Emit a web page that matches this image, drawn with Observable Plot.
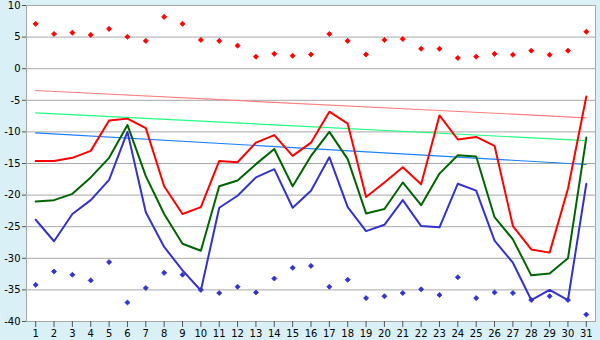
<!DOCTYPE html>
<html>
<head>
<meta charset="utf-8">
<script src="https://cdn.jsdelivr.net/npm/d3@7"></script>
<script src="https://cdn.jsdelivr.net/npm/@observablehq/plot@0.6"></script>
<style>
  html, body { margin: 0; padding: 0; background: #daf0f7; }
</style>
</head>
<body>
<div id="chart"></div>
<script>
const days = d3.range(1, 32);
const yTicks = [10, 5, 0, -5, -10, -15, -20, -25, -30, -35, -40];

const maxTemp = [-14.6, -14.6, -14.1, -13.0, -8.2, -7.9, -9.4, -18.6, -23.0, -21.9,
  -14.6, -14.8, -11.7, -10.5, -13.8, -11.7, -6.8, -8.7, -20.3, -18.0,
  -15.6, -18.3, -7.4, -11.2, -10.8, -12.2, -24.9, -28.6, -29.1, -19.0, -4.4];
const meanTemp = [-21.0, -20.8, -19.8, -17.2, -14.1, -8.9, -17.0, -23.0, -27.7, -28.8,
  -18.6, -17.7, -15.1, -12.7, -18.6, -13.8, -10.0, -14.3, -22.9, -22.2,
  -18.0, -21.6, -16.6, -13.7, -13.9, -23.5, -27.0, -32.7, -32.4, -30.0, -10.9];
const minTemp = [-23.9, -27.3, -23.0, -20.8, -17.6, -10.0, -22.7, -28.2, -31.9, -35.1,
  -22.0, -20.1, -17.2, -15.9, -22.0, -19.3, -14.0, -21.9, -25.7, -24.7,
  -20.8, -24.9, -25.1, -18.2, -19.3, -27.2, -30.7, -36.6, -35.0, -36.6, -18.2];
const recordHigh = [7.1, 5.5, 5.7, 5.35, 6.3, 5.05, 4.4, 8.2, 7.1, 4.55,
  4.4, 3.65, 1.9, 2.35, 2.05, 2.25, 5.5, 4.4, 2.25, 4.55,
  4.7, 3.15, 3.15, 1.7, 1.9, 2.35, 2.2, 2.85, 2.2, 2.85, 5.85];
const recordLow = [-34.2, -32.1, -32.6, -33.5, -30.6, -37.0, -34.7, -32.3, -32.6, -35.0,
  -35.5, -34.5, -35.4, -33.2, -31.5, -31.2, -34.5, -33.4, -36.3, -36.0,
  -35.5, -34.9, -35.8, -33.0, -36.3, -35.4, -35.5, -36.6, -36.0, -36.6, -38.9];
const trendDays = [1, 31];
const trendMax = [-3.45, -7.77];
const trendMean = [-6.98, -11.38];
const trendMin = [-10.15, -15.16];

const series = (vals) => days.map((d, i) => ({day: d, v: vals[i]}));
const trend = (vals) => trendDays.map((d, i) => ({day: d, v: vals[i]}));

const chart = Plot.plot({
  width: 600,
  height: 340,
  marginLeft: 26,
  marginRight: 5,
  marginTop: 5,
  marginBottom: 19,
  style: {background: "#daf0f7", fontFamily: "DejaVu Sans, Verdana, sans-serif", fontSize: "10px", color: "#000"},
  x: {domain: [0.5, 31.5], label: null},
  y: {domain: [-40, 10], label: null},
  marks: [
    Plot.frame({fill: "white", stroke: null}),
    Plot.gridY(yTicks, {stroke: "#a8a8a8", strokeOpacity: 1}),
    Plot.frame({stroke: "#a8a8a8"}),
    Plot.line(trend(trendMax), {x: "day", y: "v", stroke: "#ff8080", strokeWidth: 1.2}),
    Plot.line(trend(trendMean), {x: "day", y: "v", stroke: "#20ff80", strokeWidth: 1.2}),
    Plot.line(trend(trendMin), {x: "day", y: "v", stroke: "#1a80ff", strokeWidth: 1.2}),
    Plot.line(series(maxTemp), {x: "day", y: "v", stroke: "#ff0000", strokeWidth: 2}),
    Plot.line(series(meanTemp), {x: "day", y: "v", stroke: "#006400", strokeWidth: 2}),
    Plot.line(series(minTemp), {x: "day", y: "v", stroke: "#3333cc", strokeWidth: 2}),
    Plot.dot(series(recordHigh), {x: "day", y: "v", symbol: "diamond2", r: 2.3, fill: "#ff0000", stroke: "#ff0000", strokeWidth: 0.8}),
    Plot.dot(series(recordLow), {x: "day", y: "v", symbol: "diamond2", r: 2.3, fill: "#3333cc", stroke: "#3333cc", strokeWidth: 0.8}),
    Plot.axisX(days, {tickSize: 6, tickPadding: 2, tickFormat: d => String(d), stroke: "#555", label: null}),
    Plot.axisY(yTicks, {tickSize: 4, tickPadding: 2, tickFormat: d => String(d), stroke: "#555", label: null})
  ]
});
document.getElementById("chart").appendChild(chart);
</script>
</body>
</html>
